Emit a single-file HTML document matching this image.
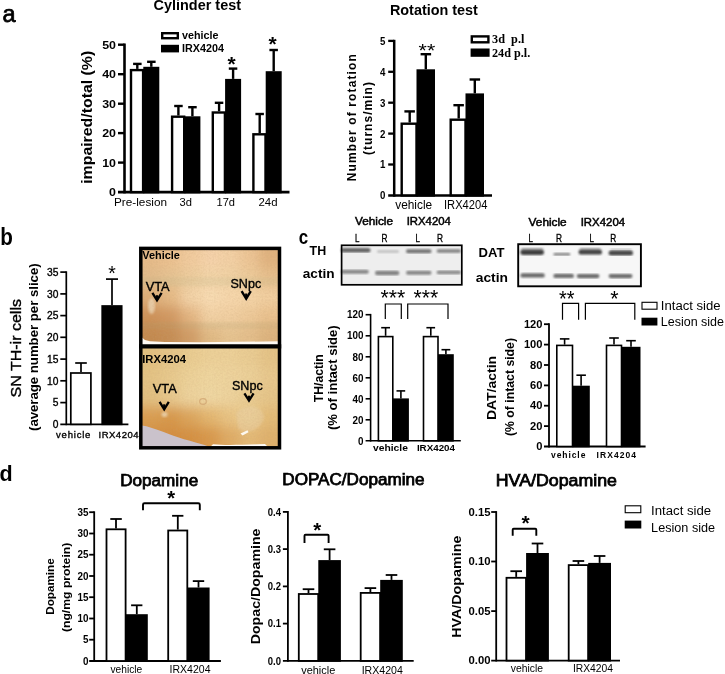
<!DOCTYPE html>
<html lang="en"><head><meta charset="utf-8"><title>Figure</title>
<style>html,body{margin:0;padding:0;background:#fff}svg{display:block}text{font-family:"Liberation Sans",Arial,sans-serif;fill:#000}</style></head><body>
<svg width="725" height="674" viewBox="0 0 725 674">
<rect width="725" height="674" fill="#fff"/>
<g id="panel-a">
<text x="2.6" y="22.0" font-size="23.5" stroke="#000" stroke-width=".75">a</text>
<text x="153.6" y="10.3" font-size="14.4" font-weight="700" textLength="87.4" lengthAdjust="spacingAndGlyphs">Cylinder test</text>
<text x="389.9" y="14.6" font-size="14.4" font-weight="700" textLength="88.0" lengthAdjust="spacingAndGlyphs">Rotation test</text>
<line x1="124.5" y1="43.5" x2="124.5" y2="193.4" stroke="#000" stroke-width="2.6"/>
<line x1="118.0" y1="192.1" x2="289.5" y2="192.1" stroke="#000" stroke-width="2.6"/>
<line x1="118.0" y1="162.6" x2="124.5" y2="162.6" stroke="#000" stroke-width="2.4"/>
<line x1="118.0" y1="133.1" x2="124.5" y2="133.1" stroke="#000" stroke-width="2.4"/>
<line x1="118.0" y1="103.7" x2="124.5" y2="103.7" stroke="#000" stroke-width="2.4"/>
<line x1="118.0" y1="74.2" x2="124.5" y2="74.2" stroke="#000" stroke-width="2.4"/>
<line x1="118.0" y1="44.7" x2="124.5" y2="44.7" stroke="#000" stroke-width="2.4"/>
<text x="116.0" y="196.1" font-size="11.5" font-weight="700" text-anchor="end" textLength="6.9" lengthAdjust="spacingAndGlyphs">0</text>
<text x="116.0" y="166.6" font-size="11.5" font-weight="700" text-anchor="end" textLength="13.8" lengthAdjust="spacingAndGlyphs">10</text>
<text x="116.0" y="137.1" font-size="11.5" font-weight="700" text-anchor="end" textLength="13.8" lengthAdjust="spacingAndGlyphs">20</text>
<text x="116.0" y="107.7" font-size="11.5" font-weight="700" text-anchor="end" textLength="13.8" lengthAdjust="spacingAndGlyphs">30</text>
<text x="116.0" y="78.2" font-size="11.5" font-weight="700" text-anchor="end" textLength="13.8" lengthAdjust="spacingAndGlyphs">40</text>
<text x="116.0" y="48.7" font-size="11.5" font-weight="700" text-anchor="end" textLength="13.8" lengthAdjust="spacingAndGlyphs">50</text>
<text x="91.8" y="183.8" font-size="14.5" font-weight="700" textLength="133.0" lengthAdjust="spacingAndGlyphs" transform="rotate(-90 91.8 183.8)">impaired/total (%)</text>
<rect x="131.0" y="70.1" width="12.1" height="122.0" fill="#fff" stroke="#000" stroke-width="2.4"/>
<line x1="137.3" y1="68.9" x2="137.3" y2="63.9" stroke="#000" stroke-width="2.4"/>
<line x1="133.1" y1="63.9" x2="141.6" y2="63.9" stroke="#000" stroke-width="2.4"/>
<rect x="144.5" y="68.0" width="13.6" height="124.1" fill="#000" stroke="#000" stroke-width="2.4"/>
<line x1="151.3" y1="66.8" x2="151.3" y2="61.8" stroke="#000" stroke-width="2.4"/>
<line x1="147.1" y1="61.8" x2="155.6" y2="61.8" stroke="#000" stroke-width="2.4"/>
<rect x="172.1" y="116.7" width="12.1" height="75.4" fill="#fff" stroke="#000" stroke-width="2.4"/>
<line x1="178.4" y1="115.5" x2="178.4" y2="106.0" stroke="#000" stroke-width="2.4"/>
<line x1="174.2" y1="106.0" x2="182.7" y2="106.0" stroke="#000" stroke-width="2.4"/>
<rect x="185.6" y="117.5" width="13.6" height="74.6" fill="#000" stroke="#000" stroke-width="2.4"/>
<line x1="192.4" y1="116.3" x2="192.4" y2="107.2" stroke="#000" stroke-width="2.4"/>
<line x1="188.2" y1="107.2" x2="196.7" y2="107.2" stroke="#000" stroke-width="2.4"/>
<rect x="212.8" y="112.5" width="12.1" height="79.6" fill="#fff" stroke="#000" stroke-width="2.4"/>
<line x1="219.1" y1="111.3" x2="219.1" y2="102.8" stroke="#000" stroke-width="2.4"/>
<line x1="214.8" y1="102.8" x2="223.3" y2="102.8" stroke="#000" stroke-width="2.4"/>
<rect x="226.3" y="80.1" width="13.6" height="112.0" fill="#000" stroke="#000" stroke-width="2.4"/>
<line x1="233.1" y1="78.9" x2="233.1" y2="68.6" stroke="#000" stroke-width="2.4"/>
<line x1="228.8" y1="68.6" x2="237.3" y2="68.6" stroke="#000" stroke-width="2.4"/>
<rect x="253.4" y="134.3" width="12.1" height="57.8" fill="#fff" stroke="#000" stroke-width="2.4"/>
<line x1="259.7" y1="133.1" x2="259.7" y2="114.0" stroke="#000" stroke-width="2.4"/>
<line x1="255.4" y1="114.0" x2="263.9" y2="114.0" stroke="#000" stroke-width="2.4"/>
<rect x="266.9" y="72.4" width="13.6" height="119.7" fill="#000" stroke="#000" stroke-width="2.4"/>
<line x1="273.7" y1="71.2" x2="273.7" y2="50.0" stroke="#000" stroke-width="2.4"/>
<line x1="269.4" y1="50.0" x2="277.9" y2="50.0" stroke="#000" stroke-width="2.4"/>
<text x="114.0" y="206.4" font-size="10" textLength="53.0" lengthAdjust="spacingAndGlyphs">Pre-lesion</text>
<text x="179.5" y="206.4" font-size="10" textLength="12.4" lengthAdjust="spacingAndGlyphs">3d</text>
<text x="216.5" y="206.4" font-size="10" textLength="18.5" lengthAdjust="spacingAndGlyphs">17d</text>
<text x="258.5" y="206.4" font-size="10" textLength="19.0" lengthAdjust="spacingAndGlyphs">24d</text>
<text x="231.5" y="70.6" font-size="21.0" font-weight="700" text-anchor="middle">*</text>
<text x="272.6" y="51.3" font-size="21.0" font-weight="700" text-anchor="middle">*</text>
<rect x="162.2" y="33.2" width="15.6" height="5.0" fill="#fff" stroke="#000" stroke-width="2.4"/>
<rect x="161.0" y="44.8" width="18.0" height="7.6" fill="#000"/>
<text x="182.0" y="39.3" font-size="10.6" font-weight="700" textLength="36.5" lengthAdjust="spacingAndGlyphs">vehicle</text>
<text x="182.0" y="52.3" font-size="10.6" font-weight="700" textLength="42.0" lengthAdjust="spacingAndGlyphs">IRX4204</text>
<line x1="394.2" y1="39.8" x2="394.2" y2="196.7" stroke="#000" stroke-width="2.5"/>
<line x1="388.2" y1="195.4" x2="492.0" y2="195.4" stroke="#000" stroke-width="2.5"/>
<line x1="388.2" y1="164.5" x2="394.2" y2="164.5" stroke="#000" stroke-width="2.3"/>
<line x1="388.2" y1="133.6" x2="394.2" y2="133.6" stroke="#000" stroke-width="2.3"/>
<line x1="388.2" y1="102.7" x2="394.2" y2="102.7" stroke="#000" stroke-width="2.3"/>
<line x1="388.2" y1="71.8" x2="394.2" y2="71.8" stroke="#000" stroke-width="2.3"/>
<line x1="388.2" y1="40.9" x2="394.2" y2="40.9" stroke="#000" stroke-width="2.3"/>
<text x="385.3" y="199.3" font-size="11" font-weight="700" text-anchor="end" textLength="5.4" lengthAdjust="spacingAndGlyphs">0</text>
<text x="385.3" y="168.4" font-size="11" font-weight="700" text-anchor="end" textLength="5.4" lengthAdjust="spacingAndGlyphs">1</text>
<text x="385.3" y="137.5" font-size="11" font-weight="700" text-anchor="end" textLength="5.4" lengthAdjust="spacingAndGlyphs">2</text>
<text x="385.3" y="106.6" font-size="11" font-weight="700" text-anchor="end" textLength="5.4" lengthAdjust="spacingAndGlyphs">3</text>
<text x="385.3" y="75.7" font-size="11" font-weight="700" text-anchor="end" textLength="5.4" lengthAdjust="spacingAndGlyphs">4</text>
<text x="385.3" y="44.8" font-size="11" font-weight="700" text-anchor="end" textLength="5.4" lengthAdjust="spacingAndGlyphs">5</text>
<text x="355.8" y="181.2" font-size="12" font-weight="700" textLength="127.0" lengthAdjust="spacing" transform="rotate(-90 355.8 181.2)">Number of rotation</text>
<text x="372.3" y="155.0" font-size="12" font-weight="700" textLength="73.0" lengthAdjust="spacing" transform="rotate(-90 372.3 155.0)">(turns/min)</text>
<rect x="401.7" y="123.7" width="14.8" height="71.7" fill="#fff" stroke="#000" stroke-width="2.4"/>
<line x1="409.7" y1="122.5" x2="409.7" y2="111.4" stroke="#000" stroke-width="2.4"/>
<line x1="404.4" y1="111.4" x2="414.9" y2="111.4" stroke="#000" stroke-width="2.4"/>
<rect x="417.7" y="70.5" width="16.1" height="124.9" fill="#000" stroke="#000" stroke-width="2.4"/>
<line x1="425.8" y1="69.3" x2="425.8" y2="54.2" stroke="#000" stroke-width="2.4"/>
<line x1="420.6" y1="54.2" x2="431.1" y2="54.2" stroke="#000" stroke-width="2.4"/>
<rect x="450.7" y="119.7" width="14.8" height="75.7" fill="#fff" stroke="#000" stroke-width="2.4"/>
<line x1="458.7" y1="118.5" x2="458.7" y2="105.2" stroke="#000" stroke-width="2.4"/>
<line x1="453.4" y1="105.2" x2="463.9" y2="105.2" stroke="#000" stroke-width="2.4"/>
<rect x="466.7" y="94.6" width="16.1" height="100.8" fill="#000" stroke="#000" stroke-width="2.4"/>
<line x1="474.8" y1="93.4" x2="474.8" y2="79.5" stroke="#000" stroke-width="2.4"/>
<line x1="469.6" y1="79.5" x2="480.1" y2="79.5" stroke="#000" stroke-width="2.4"/>
<text x="395.2" y="209.4" font-size="12" textLength="37.0" lengthAdjust="spacingAndGlyphs">vehicle</text>
<text x="444.0" y="209.4" font-size="12" textLength="43.4" lengthAdjust="spacingAndGlyphs">IRX4204</text>
<text x="426.9" y="57.0" font-size="18.6" text-anchor="middle" textLength="16.6" lengthAdjust="spacingAndGlyphs">**</text>
<rect x="471.8" y="36.4" width="16.6" height="5.9" fill="#fff" stroke="#000" stroke-width="2.4"/>
<rect x="470.6" y="48.5" width="19.0" height="8.3" fill="#000"/>
<text x="492.0" y="42.7" font-size="12" font-weight="700" style='font-family:"Liberation Serif", "Times New Roman", serif' textLength="32.4" lengthAdjust="spacingAndGlyphs" xml:space="preserve">3d  p.l</text>
<text x="492.0" y="56.6" font-size="12" font-weight="700" style='font-family:"Liberation Serif", "Times New Roman", serif' textLength="38.2" lengthAdjust="spacingAndGlyphs">24d p.l.</text>
</g>
<g id="panel-b">
<text x="0.3" y="244.7" font-size="23.5" font-weight="700" textLength="12.6" lengthAdjust="spacingAndGlyphs">b</text>
<line x1="66.3" y1="271.3" x2="66.3" y2="425.2" stroke="#000" stroke-width="1.7"/>
<line x1="60.3" y1="424.3" x2="128.4" y2="424.3" stroke="#000" stroke-width="1.7"/>
<line x1="60.3" y1="402.6" x2="66.3" y2="402.6" stroke="#000" stroke-width="1.7"/>
<line x1="60.3" y1="380.8" x2="66.3" y2="380.8" stroke="#000" stroke-width="1.7"/>
<line x1="60.3" y1="359.1" x2="66.3" y2="359.1" stroke="#000" stroke-width="1.7"/>
<line x1="60.3" y1="337.3" x2="66.3" y2="337.3" stroke="#000" stroke-width="1.7"/>
<line x1="60.3" y1="315.6" x2="66.3" y2="315.6" stroke="#000" stroke-width="1.7"/>
<line x1="60.3" y1="293.9" x2="66.3" y2="293.9" stroke="#000" stroke-width="1.7"/>
<line x1="60.3" y1="272.1" x2="66.3" y2="272.1" stroke="#000" stroke-width="1.7"/>
<text x="58.5" y="428.0" font-size="10.5" text-anchor="end" textLength="5.7" lengthAdjust="spacingAndGlyphs" stroke="#000" stroke-width=".35">0</text>
<text x="58.5" y="406.3" font-size="10.5" text-anchor="end" textLength="5.7" lengthAdjust="spacingAndGlyphs" stroke="#000" stroke-width=".35">5</text>
<text x="58.5" y="384.5" font-size="10.5" text-anchor="end" textLength="11.4" lengthAdjust="spacingAndGlyphs" stroke="#000" stroke-width=".35">10</text>
<text x="58.5" y="362.8" font-size="10.5" text-anchor="end" textLength="11.4" lengthAdjust="spacingAndGlyphs" stroke="#000" stroke-width=".35">15</text>
<text x="58.5" y="341.0" font-size="10.5" text-anchor="end" textLength="11.4" lengthAdjust="spacingAndGlyphs" stroke="#000" stroke-width=".35">20</text>
<text x="58.5" y="319.3" font-size="10.5" text-anchor="end" textLength="11.4" lengthAdjust="spacingAndGlyphs" stroke="#000" stroke-width=".35">25</text>
<text x="58.5" y="297.6" font-size="10.5" text-anchor="end" textLength="11.4" lengthAdjust="spacingAndGlyphs" stroke="#000" stroke-width=".35">30</text>
<text x="58.5" y="275.8" font-size="10.5" text-anchor="end" textLength="11.4" lengthAdjust="spacingAndGlyphs" stroke="#000" stroke-width=".35">35</text>
<text x="21.0" y="397.5" font-size="15.3" textLength="98.5" lengthAdjust="spacingAndGlyphs" transform="rotate(-90 21.0 397.5)" stroke="#000" stroke-width=".35">SN TH-ir cells</text>
<text x="38.0" y="431.0" font-size="12.5" font-weight="700" textLength="167.6" lengthAdjust="spacingAndGlyphs" transform="rotate(-90 38.0 431.0)">(average number per slice)</text>
<rect x="70.8" y="373.0" width="20.1" height="51.3" fill="#fff" stroke="#000" stroke-width="1.7"/>
<line x1="81.0" y1="372.1" x2="81.0" y2="363.0" stroke="#000" stroke-width="1.7"/>
<line x1="75.2" y1="363.0" x2="86.8" y2="363.0" stroke="#000" stroke-width="1.7"/>
<rect x="102.2" y="306.0" width="19.5" height="118.3" fill="#000" stroke="#000" stroke-width="1.7"/>
<line x1="112.0" y1="305.2" x2="112.0" y2="279.1" stroke="#000" stroke-width="1.7"/>
<line x1="106.0" y1="279.1" x2="118.0" y2="279.1" stroke="#000" stroke-width="1.7"/>
<text x="112.0" y="279.7" font-size="19.4" text-anchor="middle">*</text>
<text x="56.0" y="437.8" font-size="9.5" textLength="34.4" lengthAdjust="spacing" stroke="#000" stroke-width=".35">vehicle</text>
<text x="98.5" y="437.8" font-size="9.5" textLength="40.0" lengthAdjust="spacing" stroke="#000" stroke-width=".35">IRX4204</text>
<defs>
<linearGradient id="gTop" x1="0" y1="0" x2="0" y2="1"><stop offset="0" stop-color="#dcb58d"/><stop offset=".28" stop-color="#e0bd95"/><stop offset=".36" stop-color="#d2b88f"/><stop offset=".44" stop-color="#e3c39c"/><stop offset=".7" stop-color="#dcb48a"/><stop offset=".9" stop-color="#cf9f70"/><stop offset="1" stop-color="#d9b48c"/></linearGradient>
<radialGradient id="gTopDark" cx=".22" cy=".88" r=".55" gradientTransform="scale(1 1)"><stop offset="0" stop-color="#b9824f" stop-opacity=".9"/><stop offset=".6" stop-color="#c48f5f" stop-opacity=".45"/><stop offset="1" stop-color="#c99868" stop-opacity="0"/></radialGradient>
<radialGradient id="gTopLight" cx=".6" cy=".55" r=".45"><stop offset="0" stop-color="#edd3b0" stop-opacity=".8"/><stop offset="1" stop-color="#edd3b0" stop-opacity="0"/></radialGradient>
<linearGradient id="gBot" x1="0" y1="0" x2="0" y2="1"><stop offset="0" stop-color="#dcbc8a"/><stop offset=".25" stop-color="#e6c896"/><stop offset=".55" stop-color="#ead0a6"/><stop offset=".75" stop-color="#ddb27c"/><stop offset="1" stop-color="#cf9a60"/></linearGradient>
<filter id="blur1" x="-10%" y="-10%" width="120%" height="120%"><feGaussianBlur stdDeviation="1.2"/></filter>
<filter id="blur3" x="-20%" y="-20%" width="140%" height="140%"><feGaussianBlur stdDeviation="3"/></filter>
<filter id="blur05" x="-10%" y="-10%" width="120%" height="120%"><feGaussianBlur stdDeviation="0.6"/></filter>
<filter id="blur6" x="-10%" y="-10%" width="120%" height="120%"><feGaussianBlur stdDeviation="6"/></filter>
<filter id="grain" x="0" y="0" width="100%" height="100%"><feTurbulence type="fractalNoise" baseFrequency="0.55" numOctaves="2" seed="3" result="n"/><feColorMatrix type="matrix" values="0 0 0 0 0.55  0 0 0 0 0.36  0 0 0 0 0.18  0.9 0.9 0 0 -0.72"/></filter>
<clipPath id="cTop"><rect x="142" y="250" width="136.5" height="95"/></clipPath>
<clipPath id="cBot"><rect x="142" y="348" width="136.5" height="99"/></clipPath>
</defs>
<g clip-path="url(#cTop)">
<g filter="url(#blur6)">
<rect x="124.0" y="232.0" width="38.1" height="37.5" fill="#e6bb8a"/>
<rect x="161.1" y="232.0" width="20.6" height="37.5" fill="#ebc190"/>
<rect x="180.6" y="232.0" width="20.6" height="37.5" fill="#f1cb9e"/>
<rect x="200.2" y="232.0" width="20.6" height="37.5" fill="#f5d3aa"/>
<rect x="219.8" y="232.0" width="20.6" height="37.5" fill="#f3d0a5"/>
<rect x="239.4" y="232.0" width="20.6" height="37.5" fill="#ecc595"/>
<rect x="258.9" y="232.0" width="38.1" height="37.5" fill="#e0b27f"/>
<rect x="124.0" y="268.5" width="38.1" height="20.0" fill="#e1bb8b"/>
<rect x="161.1" y="268.5" width="20.6" height="20.0" fill="#e5c292"/>
<rect x="180.6" y="268.5" width="20.6" height="20.0" fill="#eccc9d"/>
<rect x="200.2" y="268.5" width="20.6" height="20.0" fill="#f2d4a8"/>
<rect x="219.8" y="268.5" width="20.6" height="20.0" fill="#f0d1a4"/>
<rect x="239.4" y="268.5" width="20.6" height="20.0" fill="#ecca9a"/>
<rect x="258.9" y="268.5" width="38.1" height="20.0" fill="#e7c08e"/>
<rect x="124.0" y="287.5" width="38.1" height="20.0" fill="#ddad78"/>
<rect x="161.1" y="287.5" width="20.6" height="20.0" fill="#e5b985"/>
<rect x="180.6" y="287.5" width="20.6" height="20.0" fill="#f3d3a8"/>
<rect x="200.2" y="287.5" width="20.6" height="20.0" fill="#f8dbb2"/>
<rect x="219.8" y="287.5" width="20.6" height="20.0" fill="#f6d7ac"/>
<rect x="239.4" y="287.5" width="20.6" height="20.0" fill="#f4d4a7"/>
<rect x="258.9" y="287.5" width="38.1" height="20.0" fill="#f2cfa0"/>
<rect x="124.0" y="306.5" width="38.1" height="20.0" fill="#cd9158"/>
<rect x="161.1" y="306.5" width="20.6" height="20.0" fill="#d19862"/>
<rect x="180.6" y="306.5" width="20.6" height="20.0" fill="#e3b582"/>
<rect x="200.2" y="306.5" width="20.6" height="20.0" fill="#f2d1a5"/>
<rect x="219.8" y="306.5" width="20.6" height="20.0" fill="#f1cfa2"/>
<rect x="239.4" y="306.5" width="20.6" height="20.0" fill="#edc999"/>
<rect x="258.9" y="306.5" width="38.1" height="20.0" fill="#e9c18e"/>
<rect x="124.0" y="325.5" width="38.1" height="37.5" fill="#c28950"/>
<rect x="161.1" y="325.5" width="20.6" height="37.5" fill="#c58d54"/>
<rect x="180.6" y="325.5" width="20.6" height="37.5" fill="#d09c66"/>
<rect x="200.2" y="325.5" width="20.6" height="37.5" fill="#e0b984"/>
<rect x="219.8" y="325.5" width="20.6" height="37.5" fill="#e5c390"/>
<rect x="239.4" y="325.5" width="20.6" height="37.5" fill="#e3be8b"/>
<rect x="258.9" y="325.5" width="38.1" height="37.5" fill="#ddb37e"/>
</g>
<rect x="142" y="277" width="137" height="9" fill="#bfb88c" opacity=".16" filter="url(#blur1)"/>
<rect x="142" y="322" width="137" height="7" fill="#a99e6e" opacity=".14" filter="url(#blur1)"/>
<ellipse cx="151.5" cy="306" rx="3.5" ry="8" fill="#ecd6b6" opacity=".75" filter="url(#blur1)"/>
<rect x="142" y="250" width="137" height="95" filter="url(#grain)" opacity=".3"/>
<path d="M142 337.5 L145 340 L150 341.3 L165 342 L200 342.3 L279 341.3 L279 346 L142 346 Z" fill="#fdf9f3" filter="url(#blur05)"/>
</g>
<g clip-path="url(#cBot)">
<g filter="url(#blur6)">
<rect x="124.0" y="330.0" width="38.1" height="38.3" fill="#e2c081"/>
<rect x="161.1" y="330.0" width="20.6" height="38.3" fill="#e5c589"/>
<rect x="180.6" y="330.0" width="20.6" height="38.3" fill="#e9cc91"/>
<rect x="200.2" y="330.0" width="20.6" height="38.3" fill="#ecd098"/>
<rect x="219.8" y="330.0" width="20.6" height="38.3" fill="#ecd098"/>
<rect x="239.4" y="330.0" width="20.6" height="38.3" fill="#e9cc93"/>
<rect x="258.9" y="330.0" width="38.1" height="38.3" fill="#e4c387"/>
<rect x="124.0" y="367.3" width="38.1" height="20.8" fill="#e3c385"/>
<rect x="161.1" y="367.3" width="20.6" height="20.8" fill="#e7c98d"/>
<rect x="180.6" y="367.3" width="20.6" height="20.8" fill="#ecd199"/>
<rect x="200.2" y="367.3" width="20.6" height="20.8" fill="#eed59f"/>
<rect x="219.8" y="367.3" width="20.6" height="20.8" fill="#edd39d"/>
<rect x="239.4" y="367.3" width="20.6" height="20.8" fill="#ebd099"/>
<rect x="258.9" y="367.3" width="38.1" height="20.8" fill="#e7c88d"/>
<rect x="124.0" y="387.1" width="38.1" height="20.8" fill="#e2c081"/>
<rect x="161.1" y="387.1" width="20.6" height="20.8" fill="#e7c88d"/>
<rect x="180.6" y="387.1" width="20.6" height="20.8" fill="#edd39d"/>
<rect x="200.2" y="387.1" width="20.6" height="20.8" fill="#efd7a3"/>
<rect x="219.8" y="387.1" width="20.6" height="20.8" fill="#edd39d"/>
<rect x="239.4" y="387.1" width="20.6" height="20.8" fill="#e9cb91"/>
<rect x="258.9" y="387.1" width="38.1" height="20.8" fill="#e5c589"/>
<rect x="124.0" y="406.9" width="38.1" height="20.8" fill="#d99d51"/>
<rect x="161.1" y="406.9" width="20.6" height="20.8" fill="#d7984b"/>
<rect x="180.6" y="406.9" width="20.6" height="20.8" fill="#dca55b"/>
<rect x="200.2" y="406.9" width="20.6" height="20.8" fill="#e3b66f"/>
<rect x="219.8" y="406.9" width="20.6" height="20.8" fill="#e8c383"/>
<rect x="239.4" y="406.9" width="20.6" height="20.8" fill="#eacc8e"/>
<rect x="258.9" y="406.9" width="38.1" height="20.8" fill="#e3bb77"/>
<rect x="124.0" y="426.7" width="38.1" height="38.3" fill="#d38f41"/>
<rect x="161.1" y="426.7" width="20.6" height="38.3" fill="#d38d3f"/>
<rect x="180.6" y="426.7" width="20.6" height="38.3" fill="#d49043"/>
<rect x="200.2" y="426.7" width="20.6" height="38.3" fill="#d8984b"/>
<rect x="219.8" y="426.7" width="20.6" height="38.3" fill="#dfab65"/>
<rect x="239.4" y="426.7" width="20.6" height="38.3" fill="#e3b977"/>
<rect x="258.9" y="426.7" width="38.1" height="38.3" fill="#dfb16d"/>
</g>
<path d="M236 413 C246 403 262 405 264 417 C262 430 244 436 238 428 Z" fill="#ead2aa" opacity=".42" filter="url(#blur1)"/>
<ellipse cx="203" cy="401.5" rx="3.3" ry="2.8" fill="none" stroke="#d2a672" stroke-width="1.2" opacity=".8"/>
<ellipse cx="164.5" cy="414.5" rx="3" ry="2.5" fill="#efdab8" opacity=".8" filter="url(#blur1)"/>
<rect x="142" y="348" width="137" height="99" filter="url(#grain)" opacity=".25"/>
<path d="M142 425.4 C148 426.3 153 428 158 430 C166 433 172 435.2 178 437.2 C186 439.8 194 442 201 444 C206 445.5 209 446.5 212 447.5 L214 448 L142 448 Z" fill="#cac2cb" filter="url(#blur05)"/>
<path d="M209 448 L213 444.2 C225 445.5 242 444.8 265 444 L269 448 Z" fill="#fefcf9" filter="url(#blur05)"/>
<path d="M240.5 433.5 l7 -3.2 l1 2 l-6 3.2 Z" fill="#fdf8f0"/>
</g>
<rect x="140.8" y="248.4" width="138.7" height="199.4" fill="none" stroke="#000" stroke-width="3.5"/>
<line x1="139.0" y1="346.4" x2="281.2" y2="346.4" stroke="#000" stroke-width="4.2"/>
<text x="142.2" y="258.5" font-size="10" font-weight="700" textLength="37.7" lengthAdjust="spacingAndGlyphs">Vehicle</text>
<text x="142.2" y="362.7" font-size="10" font-weight="700" textLength="43.8" lengthAdjust="spacingAndGlyphs">IRX4204</text>
<text x="145.7" y="290.7" font-size="12.3" textLength="24.0" lengthAdjust="spacingAndGlyphs" stroke="#000" stroke-width=".35">VTA</text>
<text x="230.5" y="287.8" font-size="12.3" textLength="30.7" lengthAdjust="spacingAndGlyphs" stroke="#000" stroke-width=".35">SNpc</text>
<text x="152.8" y="392.8" font-size="12.3" textLength="24.0" lengthAdjust="spacingAndGlyphs" stroke="#000" stroke-width=".35">VTA</text>
<text x="232.0" y="389.8" font-size="12.3" textLength="30.7" lengthAdjust="spacingAndGlyphs" stroke="#000" stroke-width=".35">SNpc</text>
<path d="M152.4 292.8 L157.0 300.4 L161.6 292.8" fill="none" stroke="#000" stroke-width="2.3" stroke-linejoin="miter" stroke-miterlimit="6"/>
<line x1="157.0" y1="295.2" x2="157.0" y2="300.0" stroke="#000" stroke-width="2.2"/>
<path d="M241.6 291.1 L246.2 298.7 L250.8 291.1" fill="none" stroke="#000" stroke-width="2.3" stroke-linejoin="miter" stroke-miterlimit="6"/>
<line x1="246.2" y1="293.5" x2="246.2" y2="298.3" stroke="#000" stroke-width="2.2"/>
<path d="M159.6 401.9 L164.2 409.4 L168.8 401.9" fill="none" stroke="#000" stroke-width="2.3" stroke-linejoin="miter" stroke-miterlimit="6"/>
<line x1="164.2" y1="404.3" x2="164.2" y2="409.0" stroke="#000" stroke-width="2.2"/>
<path d="M244.4 393.3 L249.0 400.6 L253.6 393.3" fill="none" stroke="#000" stroke-width="2.3" stroke-linejoin="miter" stroke-miterlimit="6"/>
<line x1="249.0" y1="395.7" x2="249.0" y2="400.2" stroke="#000" stroke-width="2.2"/>
</g>
<g id="panel-c">
<text x="298.7" y="243.8" font-size="20.5" font-weight="700" textLength="9.4" lengthAdjust="spacingAndGlyphs">c</text>
<text x="309.6" y="254.6" font-size="13" font-weight="700" textLength="16.6" lengthAdjust="spacingAndGlyphs">TH</text>
<text x="302.7" y="277.9" font-size="13.5" font-weight="700" textLength="31.9" lengthAdjust="spacingAndGlyphs">actin</text>
<text x="478.5" y="256.5" font-size="12.6" font-weight="700" textLength="25.9" lengthAdjust="spacingAndGlyphs">DAT</text>
<text x="475.7" y="281.8" font-size="13.5" font-weight="700" textLength="32.3" lengthAdjust="spacingAndGlyphs">actin</text>
<text x="355.0" y="225.4" font-size="10.1" textLength="38.0" lengthAdjust="spacingAndGlyphs" stroke="#000" stroke-width=".45">Vehicle</text>
<text x="406.7" y="225.4" font-size="10.1" textLength="44.2" lengthAdjust="spacingAndGlyphs" stroke="#000" stroke-width=".45">IRX4204</text>
<text x="528.6" y="225.5" font-size="10.1" textLength="38.1" lengthAdjust="spacingAndGlyphs" stroke="#000" stroke-width=".45">Vehicle</text>
<text x="580.7" y="225.5" font-size="10.1" textLength="44.4" lengthAdjust="spacingAndGlyphs" stroke="#000" stroke-width=".45">IRX4204</text>
<text x="355.0" y="241.7" font-size="10.4" textLength="4.4" lengthAdjust="spacingAndGlyphs" stroke="#000" stroke-width=".35">L</text>
<text x="381.4" y="241.7" font-size="10.4" textLength="6.0" lengthAdjust="spacingAndGlyphs" stroke="#000" stroke-width=".35">R</text>
<text x="415.4" y="241.7" font-size="10.4" textLength="4.4" lengthAdjust="spacingAndGlyphs" stroke="#000" stroke-width=".35">L</text>
<text x="437.0" y="241.7" font-size="10.4" textLength="6.0" lengthAdjust="spacingAndGlyphs" stroke="#000" stroke-width=".35">R</text>
<text x="528.6" y="241.7" font-size="10.4" textLength="4.4" lengthAdjust="spacingAndGlyphs" stroke="#000" stroke-width=".35">L</text>
<text x="555.9" y="241.7" font-size="10.4" textLength="6.0" lengthAdjust="spacingAndGlyphs" stroke="#000" stroke-width=".35">R</text>
<text x="589.4" y="241.7" font-size="10.4" textLength="4.4" lengthAdjust="spacingAndGlyphs" stroke="#000" stroke-width=".35">L</text>
<text x="610.2" y="241.7" font-size="10.4" textLength="6.0" lengthAdjust="spacingAndGlyphs" stroke="#000" stroke-width=".35">R</text>
<rect x="341.6" y="245.3" width="120.2" height="39.5" fill="#eeeeee"/>
<rect x="518.2" y="244.2" width="122.7" height="42.1" fill="#f7f7f7"/>
<g>
<rect x="341.0" y="247.9" width="29.5" height="4.6" rx="2.3" fill="#5c5c5c" opacity="0.95" filter="url(#blur1)"/>
<rect x="377.0" y="250.2" width="22.0" height="2.6" rx="1.3" fill="#b0b0b0" opacity="0.8" filter="url(#blur1)"/>
<rect x="406.0" y="249.2" width="25.5" height="4.0" rx="2.0" fill="#666666" opacity="0.9" filter="url(#blur1)"/>
<rect x="436.6" y="249.2" width="24.4" height="3.6" rx="1.8" fill="#747474" opacity="0.9" filter="url(#blur1)"/>
<rect x="341.0" y="269.8" width="27.8" height="4.0" rx="2.0" fill="#7c7c7c" opacity="0.9" filter="url(#blur1)"/>
<rect x="375.0" y="270.8" width="24.3" height="4.4" rx="2.2" fill="#767676" opacity="0.9" filter="url(#blur1)"/>
<rect x="406.0" y="270.7" width="25.5" height="4.0" rx="2.0" fill="#7a7a7a" opacity="0.9" filter="url(#blur1)"/>
<rect x="436.6" y="270.6" width="24.4" height="3.6" rx="1.8" fill="#808080" opacity="0.9" filter="url(#blur1)"/>
<rect x="521.0" y="247.3" width="22.5" height="3.0" rx="1.5" fill="#9a9a9a" opacity="0.5" filter="url(#blur1)"/>
<rect x="520.4" y="249.5" width="23.6" height="5.4" rx="2.7" fill="#363636" opacity="0.95" filter="url(#blur1)"/>
<rect x="553.5" y="253.1" width="16.7" height="2.5" rx="1.2" fill="#707070" opacity="0.9" filter="url(#blur1)"/>
<rect x="579.5" y="247.3" width="21.5" height="3.0" rx="1.5" fill="#9a9a9a" opacity="0.5" filter="url(#blur1)"/>
<rect x="578.6" y="249.4" width="23.4" height="5.2" rx="2.6" fill="#383838" opacity="0.95" filter="url(#blur1)"/>
<rect x="610.0" y="248.3" width="22.0" height="3.0" rx="1.5" fill="#a0a0a0" opacity="0.5" filter="url(#blur1)"/>
<rect x="608.6" y="250.5" width="24.4" height="5.0" rx="2.5" fill="#3e3e3e" opacity="0.95" filter="url(#blur1)"/>
<rect x="520.4" y="273.2" width="24.4" height="4.4" rx="2.2" fill="#5c5c5c" opacity="0.92" filter="url(#blur1)"/>
<rect x="553.3" y="273.7" width="20.7" height="4.4" rx="2.2" fill="#626262" opacity="0.92" filter="url(#blur1)"/>
<rect x="576.7" y="274.0" width="22.8" height="4.2" rx="2.1" fill="#5e5e5e" opacity="0.92" filter="url(#blur1)"/>
<rect x="608.6" y="274.0" width="23.9" height="4.2" rx="2.1" fill="#606060" opacity="0.92" filter="url(#blur1)"/>
</g>
<rect x="341.6" y="245.3" width="120.2" height="39.5" fill="none" stroke="#000" stroke-width="1.7"/>
<rect x="518.2" y="244.2" width="122.7" height="42.1" fill="none" stroke="#000" stroke-width="1.9"/>
<text x="393.0" y="304.7" font-size="21.4" text-anchor="middle" textLength="24.8" lengthAdjust="spacingAndGlyphs">***</text>
<text x="426.0" y="304.7" font-size="21.4" text-anchor="middle" textLength="24.8" lengthAdjust="spacingAndGlyphs">***</text>
<path d="M385.3 319.0V304.0H401.3V319.0" fill="none" stroke="#000" stroke-width="1.2"/>
<path d="M407.7 319.0V304.0H448.0V319.0" fill="none" stroke="#000" stroke-width="1.2"/>
<text x="566.8" y="305.6" font-size="21.4" text-anchor="middle" textLength="15.5" lengthAdjust="spacingAndGlyphs">**</text>
<text x="614.5" y="305.6" font-size="21.4" text-anchor="middle">*</text>
<path d="M562.5 319.7V303.4H578.6V319.7" fill="none" stroke="#000" stroke-width="1.2"/>
<path d="M585.4 319.7V303.4H634.8V319.7" fill="none" stroke="#000" stroke-width="1.2"/>
<line x1="370.6" y1="313.9" x2="370.6" y2="441.6" stroke="#000" stroke-width="1.6"/>
<line x1="365.6" y1="440.8" x2="460.8" y2="440.8" stroke="#000" stroke-width="1.6"/>
<line x1="365.6" y1="419.8" x2="370.6" y2="419.8" stroke="#000" stroke-width="1.6"/>
<line x1="365.6" y1="398.8" x2="370.6" y2="398.8" stroke="#000" stroke-width="1.6"/>
<line x1="365.6" y1="377.8" x2="370.6" y2="377.8" stroke="#000" stroke-width="1.6"/>
<line x1="365.6" y1="356.8" x2="370.6" y2="356.8" stroke="#000" stroke-width="1.6"/>
<line x1="365.6" y1="335.8" x2="370.6" y2="335.8" stroke="#000" stroke-width="1.6"/>
<line x1="365.6" y1="314.7" x2="370.6" y2="314.7" stroke="#000" stroke-width="1.6"/>
<text x="363.5" y="444.5" font-size="10.3" font-weight="700" text-anchor="end" textLength="5.5" lengthAdjust="spacingAndGlyphs">0</text>
<text x="363.5" y="423.5" font-size="10.3" font-weight="700" text-anchor="end" textLength="11.0" lengthAdjust="spacingAndGlyphs">20</text>
<text x="363.5" y="402.5" font-size="10.3" font-weight="700" text-anchor="end" textLength="11.0" lengthAdjust="spacingAndGlyphs">40</text>
<text x="363.5" y="381.5" font-size="10.3" font-weight="700" text-anchor="end" textLength="11.0" lengthAdjust="spacingAndGlyphs">60</text>
<text x="363.5" y="360.5" font-size="10.3" font-weight="700" text-anchor="end" textLength="11.0" lengthAdjust="spacingAndGlyphs">80</text>
<text x="363.5" y="339.4" font-size="10.3" font-weight="700" text-anchor="end" textLength="16.5" lengthAdjust="spacingAndGlyphs">100</text>
<text x="363.5" y="318.4" font-size="10.3" font-weight="700" text-anchor="end" textLength="16.5" lengthAdjust="spacingAndGlyphs">120</text>
<text x="322.6" y="402.2" font-size="12.5" font-weight="700" textLength="48.0" lengthAdjust="spacingAndGlyphs" transform="rotate(-90 322.6 402.2)">TH/actin</text>
<text x="336.8" y="430.0" font-size="12.5" font-weight="700" textLength="104.7" lengthAdjust="spacingAndGlyphs" transform="rotate(-90 336.8 430.0)">(% of intact side)</text>
<rect x="378.4" y="336.6" width="14.4" height="104.2" fill="#fff" stroke="#000" stroke-width="1.6"/>
<line x1="385.6" y1="335.8" x2="385.6" y2="327.7" stroke="#000" stroke-width="1.6"/>
<line x1="381.2" y1="327.7" x2="390.0" y2="327.7" stroke="#000" stroke-width="1.6"/>
<rect x="393.6" y="399.2" width="14.5" height="41.6" fill="#000" stroke="#000" stroke-width="1.6"/>
<line x1="400.9" y1="398.4" x2="400.9" y2="390.9" stroke="#000" stroke-width="1.6"/>
<line x1="396.5" y1="390.9" x2="405.2" y2="390.9" stroke="#000" stroke-width="1.6"/>
<rect x="423.5" y="336.6" width="14.5" height="104.2" fill="#fff" stroke="#000" stroke-width="1.6"/>
<line x1="430.8" y1="335.8" x2="430.8" y2="327.7" stroke="#000" stroke-width="1.6"/>
<line x1="426.4" y1="327.7" x2="435.1" y2="327.7" stroke="#000" stroke-width="1.6"/>
<rect x="438.8" y="355.0" width="14.2" height="85.8" fill="#000" stroke="#000" stroke-width="1.6"/>
<line x1="445.9" y1="354.2" x2="445.9" y2="349.7" stroke="#000" stroke-width="1.6"/>
<line x1="441.5" y1="349.7" x2="450.3" y2="349.7" stroke="#000" stroke-width="1.6"/>
<text x="373.0" y="450.6" font-size="9.5" font-weight="700" textLength="34.9" lengthAdjust="spacingAndGlyphs">vehicle</text>
<text x="416.9" y="450.6" font-size="9.5" font-weight="700" textLength="38.1" lengthAdjust="spacingAndGlyphs">IRX4204</text>
<line x1="549.0" y1="323.3" x2="549.0" y2="447.4" stroke="#000" stroke-width="1.8"/>
<line x1="544.0" y1="446.5" x2="645.6" y2="446.5" stroke="#000" stroke-width="1.8"/>
<line x1="544.0" y1="426.1" x2="549.0" y2="426.1" stroke="#000" stroke-width="1.8"/>
<line x1="544.0" y1="405.7" x2="549.0" y2="405.7" stroke="#000" stroke-width="1.8"/>
<line x1="544.0" y1="385.4" x2="549.0" y2="385.4" stroke="#000" stroke-width="1.8"/>
<line x1="544.0" y1="365.0" x2="549.0" y2="365.0" stroke="#000" stroke-width="1.8"/>
<line x1="544.0" y1="344.6" x2="549.0" y2="344.6" stroke="#000" stroke-width="1.8"/>
<line x1="544.0" y1="324.2" x2="549.0" y2="324.2" stroke="#000" stroke-width="1.8"/>
<text x="542.5" y="450.2" font-size="10.5" font-weight="700" text-anchor="end" textLength="6.2" lengthAdjust="spacingAndGlyphs">0</text>
<text x="542.5" y="429.8" font-size="10.5" font-weight="700" text-anchor="end" textLength="12.4" lengthAdjust="spacingAndGlyphs">20</text>
<text x="542.5" y="409.4" font-size="10.5" font-weight="700" text-anchor="end" textLength="12.4" lengthAdjust="spacingAndGlyphs">40</text>
<text x="542.5" y="389.1" font-size="10.5" font-weight="700" text-anchor="end" textLength="12.4" lengthAdjust="spacingAndGlyphs">60</text>
<text x="542.5" y="368.7" font-size="10.5" font-weight="700" text-anchor="end" textLength="12.4" lengthAdjust="spacingAndGlyphs">80</text>
<text x="542.5" y="348.3" font-size="10.5" font-weight="700" text-anchor="end" textLength="18.6" lengthAdjust="spacingAndGlyphs">100</text>
<text x="542.5" y="327.9" font-size="10.5" font-weight="700" text-anchor="end" textLength="18.6" lengthAdjust="spacingAndGlyphs">120</text>
<text x="496.2" y="420.1" font-size="12" font-weight="700" textLength="64.2" lengthAdjust="spacingAndGlyphs" transform="rotate(-90 496.2 420.1)">DAT/actin</text>
<text x="513.6" y="436.0" font-size="12" font-weight="700" textLength="98.0" lengthAdjust="spacingAndGlyphs" transform="rotate(-90 513.6 436.0)">(% of intact side)</text>
<rect x="556.8" y="345.4" width="15.7" height="101.1" fill="#fff" stroke="#000" stroke-width="1.6"/>
<line x1="564.6" y1="344.6" x2="564.6" y2="338.9" stroke="#000" stroke-width="1.6"/>
<line x1="559.9" y1="338.9" x2="569.4" y2="338.9" stroke="#000" stroke-width="1.6"/>
<rect x="573.3" y="386.5" width="15.7" height="60.0" fill="#000" stroke="#000" stroke-width="1.6"/>
<line x1="581.1" y1="385.7" x2="581.1" y2="375.2" stroke="#000" stroke-width="1.6"/>
<line x1="576.4" y1="375.2" x2="585.9" y2="375.2" stroke="#000" stroke-width="1.6"/>
<rect x="606.5" y="345.4" width="15.0" height="101.1" fill="#fff" stroke="#000" stroke-width="1.6"/>
<line x1="614.0" y1="344.6" x2="614.0" y2="338.0" stroke="#000" stroke-width="1.6"/>
<line x1="609.2" y1="338.0" x2="618.8" y2="338.0" stroke="#000" stroke-width="1.6"/>
<rect x="622.3" y="347.6" width="17.4" height="98.9" fill="#000" stroke="#000" stroke-width="1.6"/>
<line x1="631.0" y1="346.8" x2="631.0" y2="340.7" stroke="#000" stroke-width="1.6"/>
<line x1="626.2" y1="340.7" x2="635.8" y2="340.7" stroke="#000" stroke-width="1.6"/>
<text x="551.0" y="458.0" font-size="8.5" font-weight="700" textLength="34.4" lengthAdjust="spacing">vehicle</text>
<text x="596.6" y="458.0" font-size="8.5" font-weight="700" textLength="39.5" lengthAdjust="spacing">IRX4204</text>
<rect x="642.0" y="302.3" width="15.0" height="6.9" fill="#fff" stroke="#000" stroke-width="1.1"/>
<rect x="641.5" y="317.7" width="15.9" height="7.8" fill="#000"/>
<text x="660.8" y="309.6" font-size="12.5" textLength="59.8" lengthAdjust="spacingAndGlyphs">Intact side</text>
<text x="660.8" y="326.2" font-size="12.5" textLength="63.2" lengthAdjust="spacingAndGlyphs">Lesion side</text>
</g>
<g id="panel-d">
<text x="-0.5" y="481.0" font-size="21.5" font-weight="700">d</text>
<text x="120.2" y="485.9" font-size="15.8" textLength="78.0" lengthAdjust="spacingAndGlyphs" stroke="#000" stroke-width=".75">Dopamine</text>
<text x="282.3" y="485.3" font-size="15.8" textLength="142.3" lengthAdjust="spacingAndGlyphs" stroke="#000" stroke-width=".75">DOPAC/Dopamine</text>
<text x="495.8" y="485.5" font-size="15.8" textLength="121.1" lengthAdjust="spacingAndGlyphs" stroke="#000" stroke-width=".75">HVA/Dopamine</text>
<line x1="94.2" y1="511.3" x2="94.2" y2="661.9" stroke="#000" stroke-width="1.8"/>
<line x1="89.2" y1="661.0" x2="220.9" y2="661.0" stroke="#000" stroke-width="1.8"/>
<line x1="89.2" y1="639.7" x2="94.2" y2="639.7" stroke="#000" stroke-width="1.8"/>
<line x1="89.2" y1="618.5" x2="94.2" y2="618.5" stroke="#000" stroke-width="1.8"/>
<line x1="89.2" y1="597.2" x2="94.2" y2="597.2" stroke="#000" stroke-width="1.8"/>
<line x1="89.2" y1="576.0" x2="94.2" y2="576.0" stroke="#000" stroke-width="1.8"/>
<line x1="89.2" y1="554.7" x2="94.2" y2="554.7" stroke="#000" stroke-width="1.8"/>
<line x1="89.2" y1="533.5" x2="94.2" y2="533.5" stroke="#000" stroke-width="1.8"/>
<line x1="89.2" y1="512.2" x2="94.2" y2="512.2" stroke="#000" stroke-width="1.8"/>
<text x="88.5" y="664.6" font-size="10" font-weight="700" text-anchor="end" textLength="5.5" lengthAdjust="spacingAndGlyphs">0</text>
<text x="88.5" y="643.3" font-size="10" font-weight="700" text-anchor="end" textLength="5.5" lengthAdjust="spacingAndGlyphs">5</text>
<text x="88.5" y="622.1" font-size="10" font-weight="700" text-anchor="end" textLength="11.0" lengthAdjust="spacingAndGlyphs">10</text>
<text x="88.5" y="600.8" font-size="10" font-weight="700" text-anchor="end" textLength="11.0" lengthAdjust="spacingAndGlyphs">15</text>
<text x="88.5" y="579.6" font-size="10" font-weight="700" text-anchor="end" textLength="11.0" lengthAdjust="spacingAndGlyphs">20</text>
<text x="88.5" y="558.3" font-size="10" font-weight="700" text-anchor="end" textLength="11.0" lengthAdjust="spacingAndGlyphs">25</text>
<text x="88.5" y="537.1" font-size="10" font-weight="700" text-anchor="end" textLength="11.0" lengthAdjust="spacingAndGlyphs">30</text>
<text x="88.5" y="515.8" font-size="10" font-weight="700" text-anchor="end" textLength="11.0" lengthAdjust="spacingAndGlyphs">35</text>
<text x="54.4" y="614.8" font-size="11.5" font-weight="700" textLength="56.5" lengthAdjust="spacingAndGlyphs" transform="rotate(-90 54.4 614.8)">Dopamine</text>
<text x="70.5" y="632.1" font-size="11.5" font-weight="700" textLength="89.4" lengthAdjust="spacingAndGlyphs" transform="rotate(-90 70.5 632.1)">(ng/mg protein)</text>
<rect x="106.5" y="529.3" width="19.1" height="131.7" fill="#fff" stroke="#000" stroke-width="1.8"/>
<line x1="116.0" y1="528.4" x2="116.0" y2="519.0" stroke="#000" stroke-width="1.8"/>
<line x1="110.3" y1="519.0" x2="121.8" y2="519.0" stroke="#000" stroke-width="1.8"/>
<rect x="126.6" y="615.1" width="20.3" height="45.9" fill="#000" stroke="#000" stroke-width="1.8"/>
<line x1="136.8" y1="614.2" x2="136.8" y2="605.3" stroke="#000" stroke-width="1.8"/>
<line x1="131.1" y1="605.3" x2="142.4" y2="605.3" stroke="#000" stroke-width="1.8"/>
<rect x="168.2" y="530.5" width="19.1" height="130.5" fill="#fff" stroke="#000" stroke-width="1.8"/>
<line x1="177.8" y1="529.6" x2="177.8" y2="515.8" stroke="#000" stroke-width="1.8"/>
<line x1="172.1" y1="515.8" x2="183.4" y2="515.8" stroke="#000" stroke-width="1.8"/>
<rect x="188.3" y="588.4" width="20.4" height="72.6" fill="#000" stroke="#000" stroke-width="1.8"/>
<line x1="198.5" y1="587.5" x2="198.5" y2="581.1" stroke="#000" stroke-width="1.8"/>
<line x1="192.8" y1="581.1" x2="204.2" y2="581.1" stroke="#000" stroke-width="1.8"/>
<text x="110.5" y="672.7" font-size="10" textLength="31.8" lengthAdjust="spacingAndGlyphs">vehicle</text>
<text x="169.6" y="672.7" font-size="10" textLength="40.9" lengthAdjust="spacingAndGlyphs">IRX4204</text>
<path d="M143.0 510.2V504.7Q143.0 503.2 144.5 503.2H198.3Q199.8 503.2 199.8 504.7V510.2" fill="none" stroke="#000" stroke-width="1.9"/>
<text x="171.3" y="505.3" font-size="20.2" font-weight="700" text-anchor="middle">*</text>
<line x1="287.9" y1="511.0" x2="287.9" y2="661.8" stroke="#000" stroke-width="1.8"/>
<line x1="282.9" y1="660.9" x2="413.7" y2="660.9" stroke="#000" stroke-width="1.8"/>
<line x1="282.9" y1="623.6" x2="287.9" y2="623.6" stroke="#000" stroke-width="1.8"/>
<line x1="282.9" y1="586.4" x2="287.9" y2="586.4" stroke="#000" stroke-width="1.8"/>
<line x1="282.9" y1="549.1" x2="287.9" y2="549.1" stroke="#000" stroke-width="1.8"/>
<line x1="282.9" y1="511.9" x2="287.9" y2="511.9" stroke="#000" stroke-width="1.8"/>
<text x="281.0" y="664.5" font-size="10" font-weight="700" text-anchor="end" textLength="13.2" lengthAdjust="spacingAndGlyphs">0.0</text>
<text x="281.0" y="627.2" font-size="10" font-weight="700" text-anchor="end" textLength="13.2" lengthAdjust="spacingAndGlyphs">0.1</text>
<text x="281.0" y="590.0" font-size="10" font-weight="700" text-anchor="end" textLength="13.2" lengthAdjust="spacingAndGlyphs">0.2</text>
<text x="281.0" y="552.8" font-size="10" font-weight="700" text-anchor="end" textLength="13.2" lengthAdjust="spacingAndGlyphs">0.3</text>
<text x="281.0" y="515.5" font-size="10" font-weight="700" text-anchor="end" textLength="13.2" lengthAdjust="spacingAndGlyphs">0.4</text>
<text x="259.6" y="644.3" font-size="13" font-weight="700" textLength="115.8" lengthAdjust="spacingAndGlyphs" transform="rotate(-90 259.6 644.3)">Dopac/Dopamine</text>
<rect x="298.8" y="594.0" width="19.4" height="66.9" fill="#fff" stroke="#000" stroke-width="1.8"/>
<line x1="308.5" y1="593.1" x2="308.5" y2="589.2" stroke="#000" stroke-width="1.8"/>
<line x1="302.7" y1="589.2" x2="314.3" y2="589.2" stroke="#000" stroke-width="1.8"/>
<rect x="319.2" y="561.0" width="20.8" height="99.9" fill="#000" stroke="#000" stroke-width="1.8"/>
<line x1="329.6" y1="560.1" x2="329.6" y2="549.3" stroke="#000" stroke-width="1.8"/>
<line x1="323.8" y1="549.3" x2="335.4" y2="549.3" stroke="#000" stroke-width="1.8"/>
<rect x="360.7" y="592.9" width="19.4" height="68.0" fill="#fff" stroke="#000" stroke-width="1.8"/>
<line x1="370.4" y1="592.0" x2="370.4" y2="588.1" stroke="#000" stroke-width="1.8"/>
<line x1="364.6" y1="588.1" x2="376.2" y2="588.1" stroke="#000" stroke-width="1.8"/>
<rect x="381.1" y="580.8" width="20.8" height="80.1" fill="#000" stroke="#000" stroke-width="1.8"/>
<line x1="391.5" y1="579.9" x2="391.5" y2="575.0" stroke="#000" stroke-width="1.8"/>
<line x1="385.7" y1="575.0" x2="397.3" y2="575.0" stroke="#000" stroke-width="1.8"/>
<text x="301.2" y="673.5" font-size="10" textLength="34.1" lengthAdjust="spacingAndGlyphs">vehicle</text>
<text x="361.7" y="673.5" font-size="10" textLength="41.1" lengthAdjust="spacingAndGlyphs">IRX4204</text>
<path d="M304.5 542.9V535.7Q304.5 534.7 305.5 534.7H327.6Q328.6 534.7 328.6 535.7V542.9" fill="none" stroke="#000" stroke-width="1.9"/>
<text x="317.2" y="537.0" font-size="20.5" font-weight="700" text-anchor="middle">*</text>
<line x1="496.2" y1="511.1" x2="496.2" y2="661.5" stroke="#000" stroke-width="1.8"/>
<line x1="491.2" y1="660.6" x2="620.0" y2="660.6" stroke="#000" stroke-width="1.8"/>
<line x1="491.2" y1="611.1" x2="496.2" y2="611.1" stroke="#000" stroke-width="1.8"/>
<line x1="491.2" y1="561.5" x2="496.2" y2="561.5" stroke="#000" stroke-width="1.8"/>
<line x1="491.2" y1="512.0" x2="496.2" y2="512.0" stroke="#000" stroke-width="1.8"/>
<text x="490.5" y="664.2" font-size="10" font-weight="700" text-anchor="end" textLength="22.0" lengthAdjust="spacingAndGlyphs">0.00</text>
<text x="490.5" y="614.7" font-size="10" font-weight="700" text-anchor="end" textLength="22.0" lengthAdjust="spacingAndGlyphs">0.05</text>
<text x="490.5" y="565.1" font-size="10" font-weight="700" text-anchor="end" textLength="22.0" lengthAdjust="spacingAndGlyphs">0.10</text>
<text x="490.5" y="515.6" font-size="10" font-weight="700" text-anchor="end" textLength="22.0" lengthAdjust="spacingAndGlyphs">0.15</text>
<text x="461.4" y="637.8" font-size="12.5" font-weight="700" textLength="102.2" lengthAdjust="spacingAndGlyphs" transform="rotate(-90 461.4 637.8)">HVA/Dopamine</text>
<rect x="506.5" y="577.8" width="19.5" height="82.8" fill="#fff" stroke="#000" stroke-width="1.8"/>
<line x1="516.2" y1="576.9" x2="516.2" y2="571.2" stroke="#000" stroke-width="1.8"/>
<line x1="510.4" y1="571.2" x2="522.0" y2="571.2" stroke="#000" stroke-width="1.8"/>
<rect x="527.0" y="553.9" width="21.0" height="106.7" fill="#000" stroke="#000" stroke-width="1.8"/>
<line x1="537.5" y1="553.0" x2="537.5" y2="543.5" stroke="#000" stroke-width="1.8"/>
<line x1="531.7" y1="543.5" x2="543.3" y2="543.5" stroke="#000" stroke-width="1.8"/>
<rect x="568.7" y="565.1" width="19.4" height="95.5" fill="#fff" stroke="#000" stroke-width="1.8"/>
<line x1="578.4" y1="564.2" x2="578.4" y2="561.0" stroke="#000" stroke-width="1.8"/>
<line x1="572.6" y1="561.0" x2="584.2" y2="561.0" stroke="#000" stroke-width="1.8"/>
<rect x="589.1" y="563.8" width="21.0" height="96.8" fill="#000" stroke="#000" stroke-width="1.8"/>
<line x1="599.6" y1="562.9" x2="599.6" y2="556.0" stroke="#000" stroke-width="1.8"/>
<line x1="593.8" y1="556.0" x2="605.4" y2="556.0" stroke="#000" stroke-width="1.8"/>
<text x="510.8" y="672.4" font-size="10" textLength="32.2" lengthAdjust="spacingAndGlyphs">vehicle</text>
<text x="572.9" y="672.4" font-size="10" textLength="40.1" lengthAdjust="spacingAndGlyphs">IRX4204</text>
<path d="M512.7 535.8V529.8Q512.7 528.8 513.7 528.8H535.3Q536.3 528.8 536.3 529.8V535.8" fill="none" stroke="#000" stroke-width="1.9"/>
<text x="525.5" y="529.6" font-size="21.0" font-weight="700" text-anchor="middle">*</text>
<rect x="625.2" y="505.8" width="15.6" height="6.9" fill="#fff" stroke="#000" stroke-width="1.1"/>
<rect x="624.7" y="520.6" width="16.6" height="7.9" fill="#000"/>
<text x="651.1" y="515.2" font-size="12.5" textLength="60.1" lengthAdjust="spacingAndGlyphs">Intact side</text>
<text x="651.1" y="532.0" font-size="12.5" textLength="64.0" lengthAdjust="spacingAndGlyphs">Lesion side</text>
</g>
</svg></body></html>
